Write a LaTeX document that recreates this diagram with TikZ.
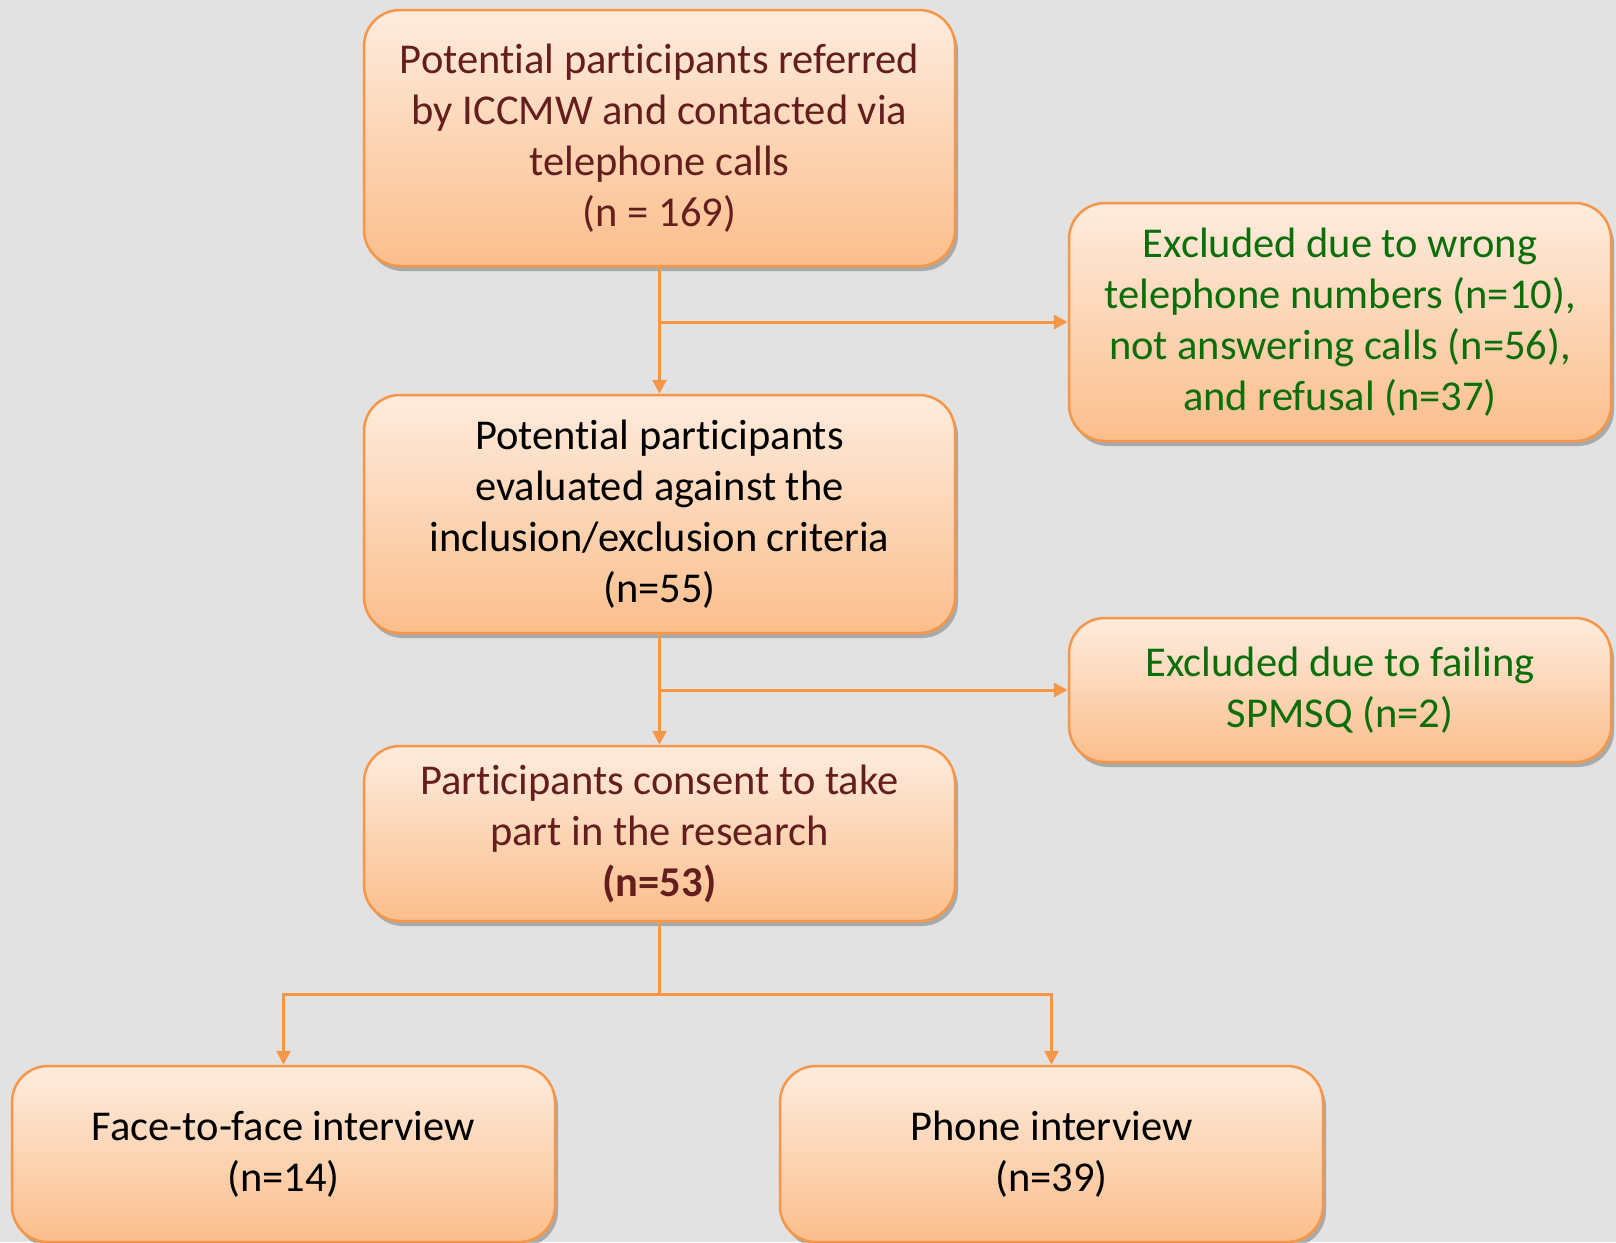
\documentclass[tikz,border=0pt]{standalone}
\usepackage{fontspec}
\setmainfont[Ligatures={NoCommon,NoContextual}]{Carlito}
\usetikzlibrary{arrows.meta,shadows,calc}
\definecolor{bgc}{RGB}{226,226,226}
\definecolor{boxtop}{RGB}{254,236,222}
\definecolor{boxbot}{RGB}{251,190,140}
\definecolor{edgec}{RGB}{247,150,70}
\definecolor{maroon}{RGB}{100,30,30}
\definecolor{greent}{RGB}{10,110,10}
\tikzset{
  flowbox/.style={rectangle, rounded corners=36pt, draw=edgec, line width=2.5pt,
    top color=boxtop, bottom color=boxbot, align=center, inner sep=0pt,
    font=\fontsize{42.5}{51}\selectfont,
    drop shadow={shadow xshift=3pt, shadow yshift=-5pt, fill=black, opacity=0.25}},
  conn/.style={draw=edgec, line width=3pt},
  arr/.style={conn, -{Triangle[length=14pt,width=14pt]}},
}
\begin{document}
\begin{tikzpicture}[x=1pt,y=1pt]
\fill[bgc] (0,0) rectangle (1616,-1242);
\useasboundingbox (0,0) rectangle (1616,-1242);
\node[flowbox, text=maroon, minimum width=591pt, minimum height=256pt] (b1) at (659.5,-138)
  {Potential participants referred\\by ICCMW and contacted via\\telephone calls\\(n = 169)};
\node[flowbox, text=greent, minimum width=542pt, minimum height=238pt] (b2) at (1340,-322)
  {Excluded due to wrong\\telephone numbers (n=10),\\not answering calls (n=56),\\and refusal (n=37)};
\node[flowbox, text=black, minimum width=591pt, minimum height=238pt] (b3) at (659.5,-514)
  {Potential participants\\evaluated against the\\inclusion/exclusion criteria\\(n=55)};
\node[flowbox, text=greent, minimum width=542pt, minimum height=144pt] (b4) at (1340,-690)
  {Excluded due to failing\\SPMSQ (n=2)};
\node[flowbox, text=maroon, minimum width=591pt, minimum height=175pt] (b5) at (659.5,-833.5)
  {Participants consent to take\\part in the research\\\textbf{(n=53)}};
\node[flowbox, text=black, minimum width=543pt, minimum height=176pt] (b6) at (283.5,-1154)
  {Face-to-face interview\\(n=14)};
\node[flowbox, text=black, minimum width=543pt, minimum height=176pt] (b7) at (1051.5,-1154)
  {Phone interview\\(n=39)};
\coordinate (j1) at (b1.south |- b2.west);
\coordinate (j2) at (b3.south |- b4.west);
\coordinate (j3) at ($(b5.south)+(0,-72)$);
\draw[arr] (b1.south) -- (b3.north);
\draw[arr] (j1) -- (b2.west);
\draw[arr] (b3.south) -- (b5.north);
\draw[arr] (j2) -- (b4.west);
\draw[conn] (b5.south) -- (j3);
\draw[arr] (j3) -| (b6.north);
\draw[arr] (j3) -| (b7.north);
\end{tikzpicture}
\end{document}
